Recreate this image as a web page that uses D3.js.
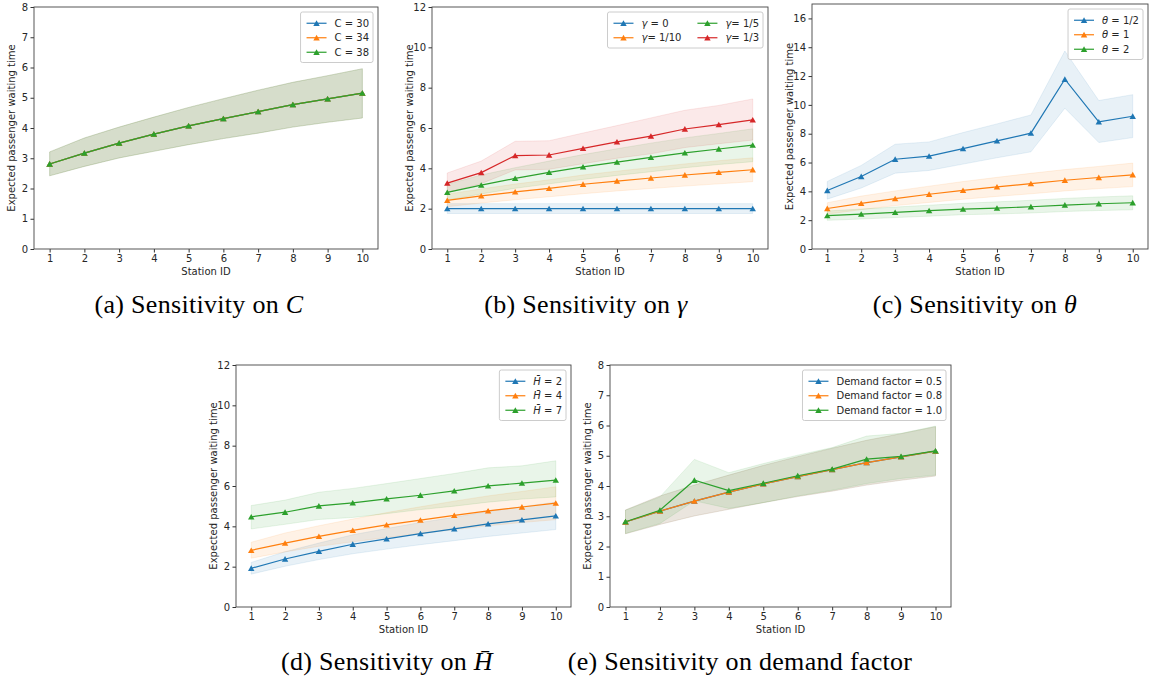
<!DOCTYPE html>
<html lang="en">
<head>
    <meta charset="UTF-8">
    <title>Sensitivity analysis</title>
    <script src="https://d3js.org/d3.v7.min.js"></script>
    <style>
        body { margin: 0; background: white; }
        svg text { font-family: "DejaVu Sans", sans-serif; fill: #262626; }
        .caption { font-family: "Liberation Serif", serif; font-size: 26px; letter-spacing: 0.3px; fill: #000; }
        .tick text { font-size: 10px; }
        .tick line, .domain { stroke: #333; }
    </style>
</head>
<body>
<svg id="canvas" width="1151" height="683"></svg>
<script>
    // station ids on the x axis
    const stations = [1, 2, 3, 4, 5, 6, 7, 8, 9, 10];

    // the reference run, shared by several panels (C=30/34/38, gamma=1/5, theta=1, H=4, demand 0.5/0.8)
    const baseMean = [2.81, 3.17, 3.50, 3.80, 4.07, 4.31, 4.54, 4.77, 4.96, 5.15];
    const baseLow  = [2.42, 2.73, 3.01, 3.23, 3.45, 3.65, 3.83, 4.03, 4.19, 4.33];
    const baseHigh = [3.21, 3.67, 4.03, 4.36, 4.68, 4.97, 5.25, 5.51, 5.73, 5.96];

    // panel b
    const gamma0Mean = [2.00, 2.00, 2.00, 2.00, 2.00, 2.00, 2.00, 2.00, 2.00, 2.00];
    const gamma0Low  = [1.76, 1.76, 1.76, 1.76, 1.76, 1.76, 1.76, 1.76, 1.76, 1.76];
    const gamma0High = [2.25, 2.25, 2.25, 2.25, 2.25, 2.25, 2.25, 2.25, 2.25, 2.25];
    const gamma10Mean = [2.41, 2.63, 2.83, 3.01, 3.21, 3.37, 3.52, 3.67, 3.80, 3.93];
    const gamma10Low  = [2.10, 2.28, 2.44, 2.59, 2.74, 2.88, 3.00, 3.12, 3.23, 3.34];
    const gamma10High = [2.72, 2.98, 3.22, 3.43, 3.67, 3.86, 4.04, 4.22, 4.38, 4.52];
    const gamma3Mean = [3.27, 3.79, 4.63, 4.66, 4.99, 5.31, 5.60, 5.95, 6.17, 6.40];
    const gamma3Low  = [2.80, 3.24, 3.92, 3.95, 4.23, 4.50, 4.72, 5.03, 5.22, 5.40];
    const gamma3High = [3.77, 4.36, 5.34, 5.37, 5.75, 6.12, 6.50, 6.88, 7.12, 7.44];

    // panel c
    const thetaHalfMean = [4.06, 5.03, 6.23, 6.44, 6.97, 7.50, 8.04, 11.78, 8.82, 9.21];
    const thetaHalfLow  = [3.46, 4.23, 5.26, 5.45, 5.89, 6.33, 6.74, 9.77, 7.39, 7.73];
    const thetaHalfHigh = [4.69, 5.80, 7.27, 7.43, 8.08, 8.68, 9.30, 13.74, 10.30, 10.71];
    const theta2Mean = [2.31, 2.42, 2.54, 2.66, 2.77, 2.84, 2.93, 3.05, 3.14, 3.21];
    const theta2Low  = [1.99, 2.08, 2.18, 2.28, 2.38, 2.43, 2.50, 2.60, 2.67, 2.72];
    const theta2High = [2.64, 2.77, 2.91, 3.04, 3.17, 3.27, 3.38, 3.51, 3.61, 3.69];

    // panel d
    const h2Mean = [1.92, 2.38, 2.76, 3.11, 3.38, 3.64, 3.87, 4.12, 4.32, 4.52];
    const h2Low  = [1.63, 2.02, 2.35, 2.64, 2.87, 3.09, 3.29, 3.50, 3.67, 3.84];
    const h2High = [2.21, 2.74, 3.17, 3.58, 3.89, 4.19, 4.45, 4.74, 4.97, 5.20];
    const h7Mean = [4.47, 4.70, 5.01, 5.16, 5.36, 5.54, 5.76, 6.01, 6.14, 6.29];
    const h7Low  = [3.87, 4.10, 4.34, 4.44, 4.63, 4.83, 5.00, 5.20, 5.35, 5.46];
    const h7High = [5.03, 5.30, 5.69, 5.88, 6.12, 6.37, 6.62, 6.90, 7.00, 7.25];

    // panel e
    const demand10Mean = [2.82, 3.20, 4.19, 3.85, 4.09, 4.34, 4.56, 4.89, 4.98, 5.16];
    const demand10Low  = [2.43, 2.76, 3.51, 3.26, 3.45, 3.67, 3.86, 4.08, 4.25, 4.36];
    const demand10High = [3.20, 3.64, 4.88, 4.44, 4.74, 5.02, 5.27, 5.65, 5.74, 5.98];

    const colors = ["#1f77b4", "#ff7f0e", "#2ca02c", "#d62728"];

    let svg = d3.select('svg');

    // each panel: frame in pixels, y range, series (label parts, mean, low, high)
    const panels = [
        {left: 34, right: 378, top: 7, bottom: 249, yMax: 8, yTicks: [0,1,2,3,4,5,6,7,8], legendCols: 1,
         caption: ["(a) Sensitivity on ", "C"], capX: 199, capY: 313,
         series: [
            {label: [["C = 30", false]], mean: baseMean, low: baseLow, high: baseHigh},
            {label: [["C = 34", false]], mean: baseMean, low: baseLow, high: baseHigh},
            {label: [["C = 38", false]], mean: baseMean, low: baseLow, high: baseHigh}]},
        {left: 432, right: 768, top: 7, bottom: 249, yMax: 12, yTicks: [0,2,4,6,8,10,12], legendCols: 2,
         caption: ["(b) Sensitivity on ", "γ"], capX: 586, capY: 313,
         series: [
            {label: [["γ", true], [" = 0", false]], mean: gamma0Mean, low: gamma0Low, high: gamma0High},
            {label: [["γ", true], ["= 1/10", false]], mean: gamma10Mean, low: gamma10Low, high: gamma10High},
            {label: [["γ", true], ["= 1/5", false]], mean: baseMean, low: baseLow, high: baseHigh},
            {label: [["γ", true], ["= 1/3", false]], mean: gamma3Mean, low: gamma3Low, high: gamma3High}]},
        {left: 812, right: 1148, top: 4, bottom: 249, yMax: 17, yTicks: [0,2,4,6,8,10,12,14,16], legendCols: 1,
         caption: ["(c) Sensitivity on ", "θ"], capX: 975, capY: 313,
         series: [
            {label: [["θ", true], [" = 1/2", false]], mean: thetaHalfMean, low: thetaHalfLow, high: thetaHalfHigh},
            {label: [["θ", true], [" = 1", false]], mean: baseMean, low: baseLow, high: baseHigh},
            {label: [["θ", true], [" = 2", false]], mean: theta2Mean, low: theta2Low, high: theta2High}]},
        {left: 236, right: 571, top: 365, bottom: 607, yMax: 12, yTicks: [0,2,4,6,8,10,12], legendCols: 1,
         caption: ["(d) Sensitivity on ", "H\u0304"], capX: 387, capY: 670,
         series: [
            {label: [["H\u0304", true], [" = 2", false]], mean: h2Mean, low: h2Low, high: h2High},
            {label: [["H\u0304", true], [" = 4", false]], mean: baseMean, low: baseLow, high: baseHigh},
            {label: [["H\u0304", true], [" = 7", false]], mean: h7Mean, low: h7Low, high: h7High}]},
        {left: 610, right: 951, top: 365, bottom: 607, yMax: 8, yTicks: [0,1,2,3,4,5,6,7,8], legendCols: 1,
         caption: ["(e) Sensitivity on demand factor", null], capX: 740, capY: 670,
         series: [
            {label: [["Demand factor = 0.5", false]], mean: baseMean, low: baseLow, high: baseHigh},
            {label: [["Demand factor = 0.8", false]], mean: baseMean, low: baseLow, high: baseHigh},
            {label: [["Demand factor = 1.0", false]], mean: demand10Mean, low: demand10Low, high: demand10High}]}
    ];

    panels.forEach(drawPanel);

    function drawPanel(p){
        let g = svg.append('g');
        let x = d3.scaleLinear().domain([0.55, 10.45]).range([p.left, p.right]);
        let y = d3.scaleLinear().domain([0, p.yMax]).range([p.bottom, p.top]);

        let area = d3.area()
            .x((d, i) => x(stations[i]))
            .y0(d => y(d[0]))
            .y1(d => y(d[1]));
        let line = d3.line()
            .x((d, i) => x(stations[i]))
            .y(d => y(d));

        // bands first, under every line
        p.series.forEach(function(s, k){
            g.append('path')
                .attr('d', area(s.low.map((v, i) => [v, s.high[i]])))
                .attr('fill', colors[k])
                .attr('fill-opacity', 0.1)
                .attr('stroke', colors[k])
                .attr('stroke-opacity', 0.1)
                .attr('stroke-width', 1);
        });
        p.series.forEach(function(s, k){
            g.append('path')
                .attr('d', line(s.mean))
                .attr('fill', 'none')
                .attr('stroke', colors[k])
                .attr('stroke-width', 1.2);
            g.selectAll(null)
                .data(s.mean)
                .enter()
                .append('path')
                .attr('d', d3.symbol(d3.symbolTriangle, 18))
                .attr('transform', (d, i) => 'translate(' + x(stations[i]) + ',' + (y(d) + 0.8) + ')')
                .attr('fill', colors[k]);
        });

        // axes
        g.append('g')
            .attr('transform', 'translate(0,' + p.bottom + ')')
            .call(d3.axisBottom(x).tickValues(stations).tickSize(3.5).tickPadding(2.5).tickSizeOuter(0));
        g.append('g')
            .attr('transform', 'translate(' + p.left + ',0)')
            .call(d3.axisLeft(y).tickValues(p.yTicks).tickSize(3.5).tickPadding(2.5).tickSizeOuter(0));
        g.selectAll('.domain').remove();
        g.append('rect')
            .attr('x', p.left).attr('y', p.top)
            .attr('width', p.right - p.left).attr('height', p.bottom - p.top)
            .attr('fill', 'none').attr('stroke', '#444').attr('stroke-width', 0.9);

        g.append('text')
            .attr('x', (p.left + p.right) / 2).attr('y', p.bottom + 26)
            .attr('text-anchor', 'middle').style('font-size', '10px')
            .text('Station ID');
        g.append('text')
            .attr('transform', 'translate(' + (p.left - 19) + ',' + ((p.top + p.bottom) / 2) + ') rotate(-90)')
            .attr('text-anchor', 'middle').style('font-size', '10px')
            .text('Expected passenger waiting time');

        drawLegend(g, p);

        // caption under the panel
        let cap = svg.append('text').attr('class', 'caption')
            .attr('x', p.capX).attr('y', p.capY).attr('text-anchor', 'middle');
        cap.append('tspan').text(p.caption[0]);
        if (p.caption[1]) cap.append('tspan').style('font-style', 'italic').text(p.caption[1]);
    }

    function drawLegend(g, p){
        let fs = 10, handle = 20, pad = 4, rowH = 14.5, gapText = 8, colGap = 16;
        let lg = g.append('g');
        let box = lg.append('rect');
        let rows = Math.ceil(p.series.length / p.legendCols);
        let colWidths = [];
        let items = [];
        p.series.forEach(function(s, k){
            let col = Math.floor(k / rows), row = k % rows;
            let it = lg.append('g');
            it.append('line').attr('x1', 0).attr('x2', handle).attr('y1', 0).attr('y2', 0)
                .attr('stroke', colors[k]).attr('stroke-width', 1.2);
            it.append('path').attr('d', d3.symbol(d3.symbolTriangle, 18))
                .attr('transform', 'translate(' + handle / 2 + ',0.8)').attr('fill', colors[k]);
            let t = it.append('text').attr('x', handle + gapText).attr('y', 3.6).style('font-size', fs + 'px');
            s.label.forEach(function(part){
                t.append('tspan').style('font-style', part[1] ? 'italic' : 'normal').text(part[0]);
            });
            let w = handle + gapText + t.node().getComputedTextLength();
            colWidths[col] = Math.max(colWidths[col] || 0, w);
            items.push({it: it, col: col, row: row});
        });
        let colX = [0];
        for (let c = 1; c < colWidths.length; c++) colX[c] = colX[c - 1] + colWidths[c - 1] + colGap;
        let innerW = colX[colX.length - 1] + colWidths[colWidths.length - 1];
        let boxW = innerW + 2 * pad + 2, boxH = rows * rowH + 2 * pad - 1;
        let bx = p.right - 5 - boxW, by = p.top + 5;
        items.forEach(function(o){
            o.it.attr('transform', 'translate(' + (bx + pad + 2 + colX[o.col]) + ',' + (by + pad + rowH / 2 + o.row * rowH) + ')');
        });
        box.attr('x', bx).attr('y', by).attr('width', boxW).attr('height', boxH)
            .attr('rx', 2).attr('fill', 'white').attr('fill-opacity', 0.8)
            .attr('stroke', '#ccc').attr('stroke-width', 1);
    }
</script>
</body>
</html>
